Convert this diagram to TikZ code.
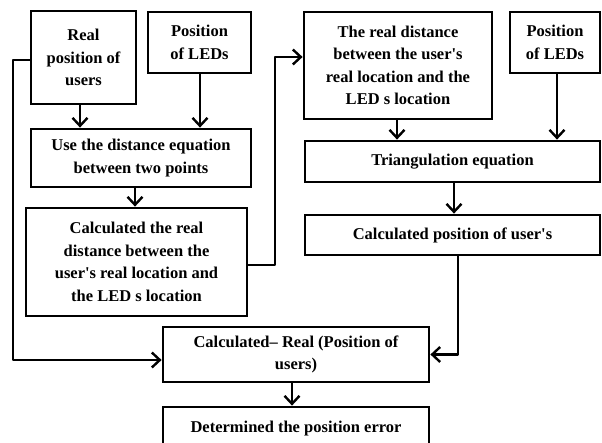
\documentclass[tikz,border=0pt]{standalone}
\usepackage{fontspec}
\setmainfont{Liberation Serif}
\usepackage{tikz}
\usetikzlibrary{arrows.meta}
\tikzset{>={Straight Barb[length=8pt,width=15pt,line width=2.4pt]}}

\begin{document}
\begin{tikzpicture}[x=1pt,y=-1pt,line width=2.8pt,
    box/.style={draw,align=center,inner sep=0pt,font={\bfseries\fontsize{16.5}{22.5}\selectfont}},
    flow/.style={->,line join=round}]
        % FRAME
        \useasboundingbox (0,0) rectangle (602,443);
        \clip (0,0) rectangle (602,443);

        % LEFT COLUMN
        \node[box,minimum width=105,minimum height=93] (real) at (83.5,57.5) {Real\\position of\\users};
        \node[box,minimum width=103,minimum height=61] (ledA) at (199.5,42.5) {Position\\of LEDs};
        \node[box,minimum width=220,minimum height=58] (dist) at (141,158) {Use the distance equation\\between two points};
        \node[box,minimum width=221,minimum height=108] (calc) at (136.5,262) {Calculated the real\\distance between the\\user\textquotesingle s real location and\\the LED s location};

        % RIGHT COLUMN
        \node[box,minimum width=188,minimum height=107] (rdist) at (398,65.5) {The real distance\\between the user\textquotesingle s\\real location and the\\LED s location};
        \node[box,minimum width=90,minimum height=61] (ledB) at (555,42.5) {Position\\of LEDs};
        \node[box,minimum width=295,minimum height=41] (tri) at (452.5,161.5) {Triangulation equation};
        \node[box,minimum width=295,minimum height=40] (cpos) at (452.5,235) {Calculated position of user\textquotesingle s};

        % BOTTOM
        \node[box,minimum width=266,minimum height=55] (diff) at (296,354.5) {Calculated-- Real (Position of\\users)};
        \node[box,minimum width=266,minimum height=44] (err) at (296,429) {Determined the position error};

        % CORNERS
        \coordinate (realOut) at (real.west |- 0,60);
        \coordinate (calcOut) at (calc.east |- 0,265);
        \coordinate (rdistIn) at (rdist.west |- 0,57);

        % ARROWS
        \draw[flow] (real.south -| 80,0) -- (dist.north -| 80,0);
        \draw[flow] (ledA.south -| 200,0) -- (dist.north -| 200,0);
        \draw[flow] (dist.south -| 135,0) -- (calc.north -| 135,0);
        \draw[flow] (calcOut) -| (275,57) -- (rdistIn);
        \draw[flow] (rdist.south -| 397,0) -- (tri.north -| 397,0);
        \draw[flow] (ledB.south -| 557,0) -- (tri.north -| 557,0);
        \draw[flow] (tri.south -| 454,0) -- (cpos.north -| 454,0);
        \draw[flow] (cpos.south -| 458,0) |- (diff.east);
        \draw[flow] (realOut) -| (13,360) -- (diff.west |- 0,360);
        \draw[flow] (diff.south -| 292,0) -- (err.north -| 292,0);

    \end{tikzpicture}
\end{document}
